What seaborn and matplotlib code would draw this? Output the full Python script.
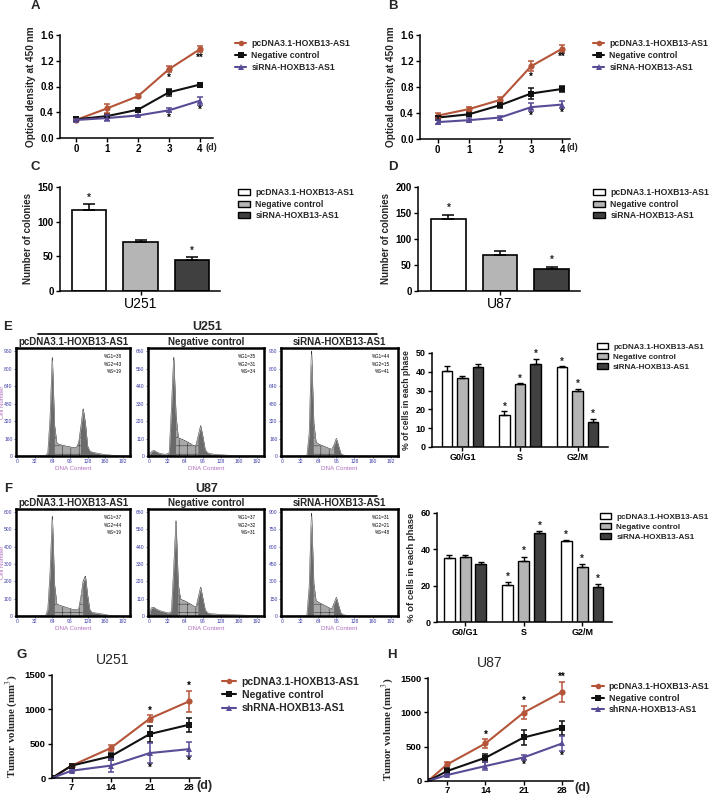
import numpy as np
import pandas as pd
import matplotlib
matplotlib.use('Agg')
import matplotlib.pyplot as plt
from matplotlib.lines import Line2D
from matplotlib.patches import Patch
import seaborn as sns

sns.set_theme(style='ticks')
plt.rcParams['font.family'] = ['Liberation Sans', 'DejaVu Sans']
plt.rcParams['mathtext.fontset'] = 'stix'
plt.rcParams['hatch.linewidth'] = 0.35

# ---------------- data ----------------
groups_si = ['pcDNA3.1-HOXB13-AS1', 'Negative control', 'siRNA-HOXB13-AS1']
groups_sh = ['pcDNA3.1-HOXB13-AS1', 'Negative control', 'shRNA-HOXB13-AS1']

days_cck = [0, 1, 2, 3, 4]
A_pc = [0.28, 0.46, 0.65, 1.07, 1.38]
A_nc = [0.29, 0.34, 0.44, 0.71, 0.83]
A_si = [0.28, 0.31, 0.35, 0.43, 0.58]
A_pc_err = [0.02, 0.07, 0.03, 0.05, 0.05]
A_nc_err = [0.02, 0.02, 0.01, 0.05, 0.03]
A_si_err = [0.02, 0.04, 0.01, 0.03, 0.06]
A_pc_star = ['', '', '', '*', '**']
A_si_star = ['', '', '', '*', '*']

B_pc = [0.36, 0.46, 0.60, 1.12, 1.39]
B_nc = [0.33, 0.38, 0.52, 0.70, 0.77]
B_si = [0.26, 0.29, 0.33, 0.49, 0.53]
B_pc_err = [0.04, 0.04, 0.05, 0.08, 0.05]
B_nc_err = [0.03, 0.02, 0.04, 0.08, 0.05]
B_si_err = [0.03, 0.03, 0.03, 0.06, 0.05]
B_pc_star = ['', '', '', '*', '**']
B_si_star = ['', '', '', '*', '*']

C_vals = [117, 70, 45]
C_err = [9, 4, 4]
C_star = ['*', '', '*']
D_vals = [139, 70, 42]
D_err = [8, 7, 5]
D_star = ['*', '', '*']

phases = ['G0/G1', 'S', 'G2/M']
E_pc = [40.5, 17.0, 42.5]
E_nc = [36.5, 33.5, 30.0]
E_si = [42.5, 44.0, 13.5]
E_pc_err = [2.5, 2.0, 0.5]
E_nc_err = [1.5, 0.5, 1.0]
E_si_err = [1.5, 3.0, 1.5]
F_pc = [35.0, 20.5, 44.5]
F_nc = [36.0, 33.5, 30.5]
F_si = [32.0, 49.0, 19.0]
F_pc_err = [2.0, 1.5, 0.5]
F_nc_err = [1.0, 2.5, 1.5]
F_si_err = [1.0, 1.0, 2.0]
phase_star = ['', '*', '*']

# flow cytometry histograms: counts per 4-channel bin (channel 0..204)
E1_counts = [0, 0, 0, 0, 0, 0, 0, 0, 2, 2, 3, 3, 3, 5, 30, 350, 900, 280, 120, 105, 100, 95, 90, 86, 82, 78,
             74, 80, 120, 270, 430, 300, 90, 45, 35, 30, 25, 22, 18, 15, 12, 10, 8, 6, 5, 4, 3, 2, 2, 1, 0, 0]
E2_counts = [5, 25, 35, 28, 20, 15, 12, 10, 12, 20, 300, 620, 250, 115, 108, 102, 95, 88, 80, 72, 62, 70, 130, 190,
             120, 40, 20, 15, 12, 10, 9, 8, 7, 6, 5, 4, 4, 3, 3, 2, 2, 2, 1, 1, 1, 1, 0, 0, 0, 0, 0, 0]
E3_counts = [0, 0, 0, 0, 0, 0, 0, 0, 1, 1, 2, 5, 200, 960, 300, 125, 110, 100, 92, 84, 75, 66, 60, 100, 160, 90,
             20, 8, 5, 4, 3, 2, 2, 1, 1, 1, 0, 0, 0, 0, 0, 0, 0, 0, 0, 0, 0, 0, 0, 0, 0, 0]
F1_counts = [0, 0, 0, 0, 0, 0, 0, 0, 1, 1, 2, 2, 2, 3, 40, 250, 575, 180, 70, 62, 58, 54, 50, 46, 42, 38,
             36, 34, 40, 110, 200, 230, 120, 35, 20, 18, 16, 14, 12, 10, 8, 5, 3, 2, 1, 1, 0, 0, 0, 0, 0, 0]
F2_counts = [0, 50, 55, 45, 38, 32, 28, 24, 20, 18, 30, 300, 604, 200, 105, 100, 94, 86, 78, 70, 62, 56, 120, 182,
             110, 40, 20, 15, 13, 12, 11, 10, 10, 9, 9, 8, 8, 7, 7, 6, 6, 5, 5, 4, 4, 3, 3, 2, 2, 1, 0, 0]
F3_counts = [0, 0, 0, 0, 0, 0, 0, 0, 1, 1, 2, 5, 250, 890, 280, 130, 118, 108, 98, 88, 78, 68, 60, 110, 160, 90,
             25, 10, 6, 4, 3, 2, 2, 1, 1, 0, 0, 0, 0, 0, 0, 0, 0, 0, 0, 0, 0, 0, 0, 0, 0, 0]
E_peaks = [(64, 120), (44, 92), (52, 96)]
F_peaks = [(64, 124), (48, 92), (52, 96)]
E_yticks = [(160, 960), (110, 660), (160, 960)]
F_yticks = [(100, 600), (110, 660), (150, 900)]
E_pct = [('38', '43', '19'), ('35', '31', '34'), ('44', '15', '41')]
F_pct = [('37', '44', '19'), ('37', '32', '31'), ('31', '21', '48')]
flow_titles = ['pcDNA3.1-HOXB13-AS1', 'Negative control', 'siRNA-HOXB13-AS1']
dna_ticks = [0, 32, 64, 96, 128, 160, 192]

days_tum = [3.5, 7, 14, 21, 28]
G_pc = [0, 180, 435, 865, 1115]
G_nc = [0, 180, 315, 640, 775]
G_sh = [0, 106, 180, 363, 420]
G_pc_err = [0, 20, 40, 50, 150]
G_nc_err = [0, 20, 50, 120, 100]
G_sh_err = [0, 15, 90, 140, 100]
G_pc_star = ['', '', '', '*', '*']
G_sh_star = ['', '', '', '*', '*']
H_pc = [0, 242, 547, 997, 1297]
H_nc = [0, 145, 339, 634, 774]
H_sh = [0, 87, 218, 344, 547]
H_pc_err = [0, 30, 60, 100, 150]
H_nc_err = [0, 40, 60, 110, 100]
H_sh_err = [0, 20, 60, 40, 110]
H_pc_star = ['', '', '*', '*', '**']
H_sh_star = ['', '', '', '*', '*']

line_colors = ['#B4553A', '#111111', '#5A4B96']
markers = ['o', 's', '^']
bar_colors = ['#FFFFFF', '#B5B5B5', '#404040']

# ---------------- figure ----------------
W, H = 709, 797
fig = plt.figure(figsize=(W / 100, H / 100), dpi=100)


def add_ax(l, t, r, b):
    return fig.add_axes([l / W, 1 - b / H, (r - l) / W, (b - t) / H])


def ftext(x, y, s, **kw):
    fig.text(x / W, 1 - y / H, s, **kw)


def style_ax(ax, fs=7):
    for s in ['top', 'right']:
        ax.spines[s].set_visible(False)
    for s in ['left', 'bottom']:
        ax.spines[s].set_linewidth(1.1)
        ax.spines[s].set_color('black')
    ax.tick_params(axis='both', length=3, width=1.0, labelsize=fs, pad=1.5, colors='black')
    for lab in ax.get_xticklabels() + ax.get_yticklabels():
        lab.set_fontweight('bold')


def legend_at(handles, labels, x, y, fs=6.2, hl=1.3, sp=0.35):
    fig.legend(handles, labels, loc='upper left', bbox_to_anchor=(x / W, 1 - y / H),
               frameon=False, prop={'weight': 'bold', 'size': fs}, handlelength=hl,
               handletextpad=0.6, labelspacing=sp, borderpad=0, borderaxespad=0)


def line_panel(rect, x, series, errs, stars, names, ylim, yticks, xlim, xticks, ylabel,
               star_dirs, off, serif=False, ylfs=7, tfs=7):
    ax = add_ax(*rect)
    rows = []
    for g, vals in zip(names, series):
        for xi, v in zip(x, vals):
            rows.append({'day': xi, 'val': v, 'group': g})
    df = pd.DataFrame(rows)
    sns.lineplot(data=df, x='day', y='val', hue='group', style='group', hue_order=names,
                 style_order=names, palette=dict(zip(names, line_colors)),
                 markers=dict(zip(names, markers)), dashes=False, legend=False, ax=ax,
                 lw=1.5, markersize=4.5, markeredgewidth=0, errorbar=None)
    for i, (vals, e) in enumerate(zip(series, errs)):
        ax.errorbar(x, vals, yerr=e, fmt='none', ecolor=line_colors[i], elinewidth=1.1,
                    capsize=2.5, capthick=1.1)
    for i, st in stars.items():
        for xi, v, e, s in zip(x, series[i], errs[i], st):
            if s:
                y = v + star_dirs[i] * (e + off)
                ax.text(xi, y, s, ha='center', va='center', fontsize=7, fontweight='bold',
                        color='black')
    ax.set_xlim(*xlim)
    ax.set_ylim(*ylim)
    ax.set_yticks(yticks)
    ax.set_xticks(xticks)
    ax.set_xlabel('')
    style_ax(ax, fs=tfs)
    if serif:
        ax.set_ylabel(ylabel, fontsize=ylfs, fontweight='bold', family='Liberation Serif', labelpad=3)
    else:
        ax.set_ylabel(ylabel, fontsize=ylfs, fontweight='bold', labelpad=3)
    handles = [Line2D([], [], color=c, marker=m, lw=1.5, markersize=4, markeredgewidth=0)
               for c, m in zip(line_colors, markers)]
    return ax, handles


# ---- A & B
for rect, series, errs, stars, lx, lab, lab_xy, d_xy in [
        ((60, 35, 213, 138), [A_pc, A_nc, A_si], [A_pc_err, A_nc_err, A_si_err],
         {0: A_pc_star, 2: A_si_star}, 235, 'A', (35, 6), (211, 147)),
        ((420, 35, 570, 139), [B_pc, B_nc, B_si], [B_pc_err, B_nc_err, B_si_err],
         {0: B_pc_star, 2: B_si_star}, 593, 'B', (393, 6), (572, 147))]:
    ax, hnd = line_panel(rect, days_cck, series, errs, stars, groups_si, (0, 1.6),
                         [0.0, 0.4, 0.8, 1.2, 1.6], (-0.52, 4.42) if lab == 'A' else (-0.57, 4.25),
                         days_cck, 'Optical density at 450 nm', {0: -1, 2: -1}, 0.08, ylfs=7.2)
    ax.set_yticklabels(['0.0', '0.4', '0.8', '1.2', '1.6'], fontweight='bold')
    legend_at(hnd, groups_si, lx, 39)
    ftext(*lab_xy, lab, fontsize=9.5, fontweight='bold', va='center', ha='center')
    ftext(*d_xy, '(d)', fontsize=6.5, fontweight='bold', va='center', ha='center')


# ---- C & D
def colony_panel(rect, vals, errs, stars, ymax, ystep, cell, lx, lab, lab_xy, xlim):
    ax = add_ax(*rect)
    df = pd.DataFrame({'group': groups_si, 'val': vals})
    sns.barplot(data=df, x='group', y='val', hue='group', hue_order=groups_si, order=groups_si,
                palette=dict(zip(groups_si, bar_colors)), edgecolor='black', linewidth=1.2,
                width=0.67, legend=False, ax=ax)
    xs = np.arange(3)
    ax.errorbar(xs, vals, yerr=[np.zeros(3), errs], fmt='none', ecolor='black', elinewidth=1.1,
                capsize=4.5, capthick=1.1)
    for xi, v, e, s in zip(xs, vals, errs, stars):
        if s:
            ax.text(xi, v + e + ymax * 0.06, s, ha='center', va='center', fontsize=7, fontweight='bold')
    ax.set_xlim(*xlim)
    ax.set_ylim(0, ymax)
    ax.set_yticks(np.arange(0, ymax + 1, ystep))
    ax.set_xticks([1])
    ax.set_xticklabels([cell])
    ax.set_xlabel('')
    style_ax(ax)
    ax.set_xticklabels([cell], fontsize=10, fontweight='normal')
    ax.tick_params(axis='x', pad=1)
    ax.set_ylabel('Number of colonies', fontsize=7, fontweight='bold', labelpad=3)
    hnd = [Patch(facecolor=c, edgecolor='black', lw=1.0) for c in bar_colors]
    legend_at(hnd, groups_si, lx, 188, hl=1.4, sp=0.3)
    ftext(*lab_xy, lab, fontsize=9.5, fontweight='bold', va='center', ha='center')


colony_panel((60, 187, 220, 291), C_vals, C_err, C_star, 150, 50, 'U251', 238, 'C', (35, 167), (-0.56, 2.54))
colony_panel((418, 187, 580, 291), D_vals, D_err, D_star, 200, 50, 'U87', 593, 'D', (393, 167), (-0.59, 2.55))


# ---- E & F flow histograms
def hist_panel(rect, counts, peaks, yt, pct, title, ylabel):
    ax = add_ax(*rect)
    ch = np.arange(len(counts)) * 4
    c = np.array(counts, dtype=float)
    g1, g2 = peaks
    ax.fill_between(ch, c, color='#6a6a6a', lw=0)
    mask = (ch >= g1 + 4) & (ch <= g2 - 4)
    ax.fill_between(ch, c, where=mask, facecolor='#a8a8a8', edgecolor='#2a2a2a', hatch='++',
                    lw=0, interpolate=False)
    ax.plot(ch, c, color='#222222', lw=0.6)
    ax.plot(ch, c * 0.97, color='white', lw=0.35, alpha=0.8)
    step, top = yt
    ax.set_ylim(0, top * 1.03)
    ax.set_xlim(-2, 205)
    ax.set_yticks(np.arange(0, top + 1, step))
    ax.set_xticks(dna_ticks)
    ax.tick_params(axis='both', length=1.5, width=0.5, labelsize=3.6, pad=1,
                   colors='#3a3aa8')
    for s in ax.spines.values():
        s.set_linewidth(1.8)
        s.set_color('black')
    ax.set_xlabel('DNA Content', fontsize=4.5, color='#b070c0', labelpad=1)
    if ylabel:
        ax.set_ylabel('Cell Number', fontsize=4.3, color='#b070c0')
        ax.yaxis.set_label_coords(-0.1, 0.5)
    ax.set_title(title, fontsize=7, fontweight='bold', pad=2.5)
    for k, (lbl, v) in enumerate(zip(['%G1', '%G2', '%S'], pct)):
        ax.text(0.93, 0.92 - 0.07 * k, f'{lbl}={v}', transform=ax.transAxes, fontsize=3.3,
                ha='right', va='center', color='black')
    ax.set_facecolor('white')
    return ax


E_counts = [E1_counts, E2_counts, E3_counts]
F_counts = [F1_counts, F2_counts, F3_counts]
box_x = [(16, 130), (148, 264), (281, 398)]
for k in range(3):
    hist_panel((box_x[k][0], 348, box_x[k][1], 456), E_counts[k], E_peaks[k], E_yticks[k],
               E_pct[k], flow_titles[k], k == 0)
    hist_panel((box_x[k][0], 509, box_x[k][1], 616), F_counts[k], F_peaks[k], F_yticks[k],
               F_pct[k], flow_titles[k], k == 0)

for y_line, title, lab, ly in [(334, 'U251', 'E', 327), (496, 'U87', 'F', 489)]:
    fig.add_artist(Line2D([38 / W, 377 / W], [1 - y_line / H, 1 - y_line / H], color='black', lw=1.2))
    ftext(207, y_line - 7, title, fontsize=9, fontweight='bold', ha='center', va='center')
    ftext(8, ly, lab, fontsize=9.5, fontweight='bold', ha='center', va='center')


# ---- E & F phase bars
def phase_panel(rect, pcs, ncs, sis, pce, nce, sie, ymax, ystep, xlim, lx, ly, ylfs, lfs):
    ax = add_ax(*rect)
    rows = []
    for g, vals in zip(groups_si, [pcs, ncs, sis]):
        for p, v in zip(phases, vals):
            rows.append({'phase': p, 'val': v, 'group': g})
    df = pd.DataFrame(rows)
    sns.barplot(data=df, x='phase', y='val', hue='group', hue_order=groups_si, order=phases,
                palette=dict(zip(groups_si, bar_colors)), edgecolor='black', linewidth=1.0,
                width=0.81, gap=0.31, legend=False, ax=ax)
    for cont, vals, e in zip(ax.containers, [pcs, ncs, sis], [pce, nce, sie]):
        xs = [b.get_x() + b.get_width() / 2 for b in cont]
        ax.errorbar(xs, vals, yerr=[np.zeros(3), e], fmt='none', ecolor='black', elinewidth=1.0,
                    capsize=2.5, capthick=1.0)
        for xi, v, ee, s in zip(xs, vals, e, phase_star):
            if s:
                ax.text(xi, v + ee + ymax * 0.05, s, ha='center', va='center', fontsize=7,
                        fontweight='bold')
    ax.set_xlim(*xlim)
    ax.set_ylim(0, ymax)
    ax.set_yticks(np.arange(0, ymax + 1, ystep))
    ax.set_xlabel('')
    style_ax(ax, fs=6.5)
    ax.set_ylabel('% of cells in each phase', fontsize=ylfs, fontweight='bold', labelpad=3)
    hnd = [Patch(facecolor=c, edgecolor='black', lw=1.0) for c in bar_colors]
    legend_at(hnd, groups_si, lx, ly, fs=lfs, hl=1.4, sp=0.3)


phase_panel((432, 353, 608, 447), E_pc, E_nc, E_si, E_pc_err, E_nc_err, E_si_err, 50, 10,
            (-0.53, 2.53), 597, 343, 6.2, 5.8)
phase_panel((437, 513, 612, 622), F_pc, F_nc, F_si, F_pc_err, F_nc_err, F_si_err, 60, 20,
            (-0.48, 2.51), 600, 513, 6.8, 5.9)

# ---- G & H
for rect, series, errs, stars, lx, ly, lfs, lab, lab_xy, ttl, ttl_xy, d_xy in [
        ((52, 675, 200, 778), [G_pc, G_nc, G_sh], [G_pc_err, G_nc_err, G_sh_err],
         {0: G_pc_star, 2: G_sh_star}, 222, 677, 7.5, 'G', (22, 655), 'U251', (113, 660), (204, 786)),
        ((428, 678, 573, 781), [H_pc, H_nc, H_sh], [H_pc_err, H_nc_err, H_sh_err],
         {0: H_pc_star, 2: H_sh_star}, 592, 682, 6.4, 'H', (392, 655), 'U87', (490, 663), (582, 788))]:
    ax, hnd = line_panel(rect, days_tum, series, errs, stars, groups_sh, (0, 1500),
                         [0, 500, 1000, 1500], (3.5, 30), [7, 14, 21, 28],
                         'Tumor volume (mm$^{3}$)', {0: 1, 2: -1}, 70, serif=True, ylfs=7.8, tfs=6.8)
    ax.tick_params(axis='x', pad=0.8)
    legend_at(hnd, groups_sh, lx, ly, fs=lfs, sp=0.3)
    ftext(*lab_xy, lab, fontsize=9.5, fontweight='bold', va='center', ha='center')
    ftext(*ttl_xy, ttl, fontsize=10, va='center', ha='center')
    ftext(*d_xy, '(d)', fontsize=9, fontweight='bold', va='center', ha='center')

fig.savefig('out.png', dpi=100, facecolor='white')
